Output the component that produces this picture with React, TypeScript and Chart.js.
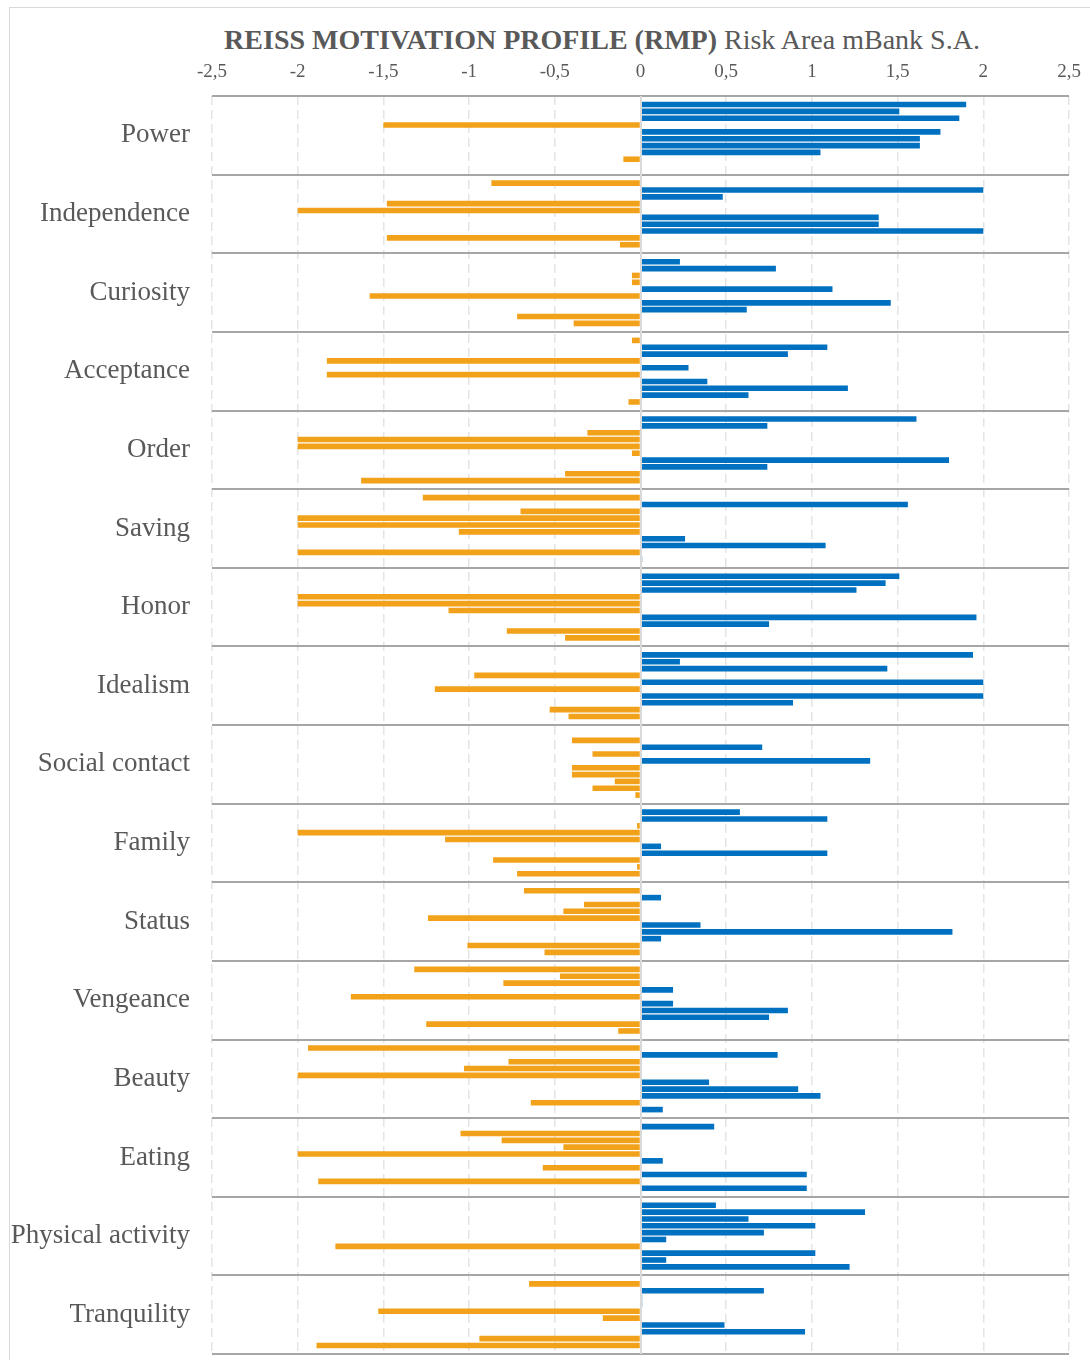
import React, { useEffect, useRef } from "react";
import { Chart, registerables } from "chart.js";

Chart.register(...registerables);

// ---------- data ----------
const categories = [
  "Power",
  "Independence",
  "Curiosity",
  "Acceptance",
  "Order",
  "Saving",
  "Honor",
  "Idealism",
  "Social contact",
  "Family",
  "Status",
  "Vengeance",
  "Beauty",
  "Eating",
  "Physical activity",
  "Tranquility",
];

const xTickValues = [-2.5, -2, -1.5, -1, -0.5, 0, 0.5, 1, 1.5, 2, 2.5];
const xTickLabels = ["-2,5", "-2", "-1,5", "-1", "-0,5", "0", "0,5", "1", "1,5", "2", "2,5"];

// 10 respondents per motive (top to bottom within each band)
const power = [1.9, 1.51, 1.86, -1.5, 1.75, 1.63, 1.63, 1.05, -0.1, 0];
const independence = [-0.87, 2, 0.48, -1.48, -2, 1.39, 1.39, 2, -1.48, -0.12];
const curiosity = [0.23, 0.79, -0.05, -0.05, 1.12, -1.58, 1.46, 0.62, -0.72, -0.39];
const acceptance = [-0.05, 1.09, 0.86, -1.83, 0.28, -1.83, 0.39, 1.21, 0.63, -0.07];
const order = [1.61, 0.74, -0.31, -2, -2, -0.05, 1.8, 0.74, -0.44, -1.63];
const saving = [-1.27, 1.56, -0.7, -2, -2, -1.06, 0.26, 1.08, -2, 0.01];
const honor = [1.51, 1.43, 1.26, -2, -2, -1.12, 1.96, 0.75, -0.78, -0.44];
const idealism = [1.94, 0.23, 1.44, -0.97, 2, -1.2, 2, 0.89, -0.53, -0.42];
const socialContact = [0, -0.4, 0.71, -0.28, 1.34, -0.4, -0.4, -0.15, -0.28, -0.03];
const family = [0.58, 1.09, -0.02, -2, -1.14, 0.12, 1.09, -0.86, -0.02, -0.72];
const status = [-0.68, 0.12, -0.33, -0.45, -1.24, 0.35, 1.82, 0.12, -1.01, -0.56];
const vengeance = [-1.32, -0.47, -0.8, 0.19, -1.69, 0.19, 0.86, 0.75, -1.25, -0.13];
const beauty = [-1.94, 0.8, -0.77, -1.03, -2, 0.4, 0.92, 1.05, -0.64, 0.13];
const eating = [0.43, -1.05, -0.81, -0.45, -2, 0.13, -0.57, 0.97, -1.88, 0.97];
const physicalActivity = [0.44, 1.31, 0.63, 1.02, 0.72, 0.15, -1.78, 1.02, 0.15, 1.22];
const tranquility = [-0.65, 0.72, 0.01, 0.01, -1.53, -0.22, 0.49, 0.96, -0.94, -1.89];

const motiveRows = [
  power,
  independence,
  curiosity,
  acceptance,
  order,
  saving,
  honor,
  idealism,
  socialContact,
  family,
  status,
  vengeance,
  beauty,
  eating,
  physicalActivity,
  tranquility,
];

const respondentCount = 10;

// ---------- styles ----------
const BLUE = "#0070C0";
const ORANGE = "#F2A11A";
const TEXT = "#595959";
const SERIF = "'Liberation Serif', 'Times New Roman', serif";

const zeroLinePlugin = {
  id: "zeroLine",
  afterDatasetsDraw(chart: any) {
    const { ctx, chartArea, scales } = chart;
    const x = Math.round(scales.x.getPixelForValue(0));
    ctx.save();
    ctx.strokeStyle = "#d9d9d9";
    ctx.lineWidth = 2;
    ctx.beginPath();
    ctx.moveTo(x, chartArea.top);
    ctx.lineTo(x, chartArea.bottom);
    ctx.stroke();
    ctx.restore();
  },
};

export default function App() {
  const canvasRef = useRef<HTMLCanvasElement | null>(null);

  useEffect(() => {
    if (!canvasRef.current) return;
    const datasets = Array.from({ length: respondentCount }, (_, i) => ({
      label: `Respondent ${i + 1}`,
      data: motiveRows.map((row) => row[i]),
      backgroundColor: (c: any) => (c.raw < 0 ? ORANGE : BLUE),
      borderWidth: 0,
      categoryPercentage: 0.87,
      barPercentage: 0.82,
    }));

    const chart = new Chart(canvasRef.current, {
      type: "bar",
      data: { labels: categories, datasets },
      options: {
        responsive: false,
        animation: false,
        indexAxis: "y",
        layout: { padding: { left: 0, right: 21, top: 0, bottom: 6 } },
        plugins: {
          legend: { display: false },
          tooltip: { enabled: false },
          title: { display: false },
        },
        scales: {
          x: {
            position: "top",
            min: -2.5,
            max: 2.5,
            afterBuildTicks: (s: any) => {
              s.ticks = xTickValues.map((v) => ({ value: v }));
            },
            ticks: {
              callback: (_v: any, i: number) => xTickLabels[i],
              font: { family: SERIF, size: 19 },
              color: TEXT,
              padding: 13,
              maxRotation: 0,
              autoSkip: false,
            },
            grid: {
              color: (c: any) => (c.tick && c.tick.value === 0 ? "rgba(0,0,0,0)" : "#e4e4e4"),
              lineWidth: 1.5,
              drawTicks: false,
            },
            border: { display: false, dash: [9, 5] },
            afterFit: (s: any) => {
              s.height = 96;
              s.paddingLeft = 0;
              s.paddingRight = 0;
            },
          },
          y: {
            ticks: {
              font: { family: SERIF, size: 27 },
              color: TEXT,
              padding: 22,
              autoSkip: false,
            },
            grid: {
              color: "#a6a6a6",
              lineWidth: 2,
              drawTicks: false,
              offset: true,
            },
            border: { display: false },
            afterFit: (s: any) => {
              s.width = 212;
              s.paddingTop = 0;
              s.paddingBottom = 0;
            },
          },
        },
      },
      plugins: [zeroLinePlugin],
    } as any);

    return () => chart.destroy();
  }, []);

  return (
    <div
      style={{
        position: "fixed",
        left: 0,
        top: 0,
        width: 1090,
        height: 1360,
        overflow: "hidden",
        background: "#ffffff",
      }}
    >
      <div
        style={{
          position: "absolute",
          left: 9,
          top: 7,
          width: 1200,
          height: 1500,
          border: "1px solid #d9d9d9",
          boxSizing: "border-box",
        }}
      />
      <div
        style={{
          position: "absolute",
          left: 0,
          top: 25,
          width: 1204,
          height: 30,
          lineHeight: "30px",
          textAlign: "center",
          fontFamily: SERIF,
          fontSize: 28,
          color: TEXT,
          whiteSpace: "nowrap",
        }}
      >
        <span style={{ fontWeight: "bold" }}>REISS MOTIVATION PROFILE (RMP)</span>
        <span> Risk Area mBank S.A.</span>
      </div>
      <canvas
        ref={canvasRef}
        width={1090}
        height={1360}
        style={{ position: "absolute", left: 0, top: 0, width: 1090, height: 1360 }}
      />
    </div>
  );
}
